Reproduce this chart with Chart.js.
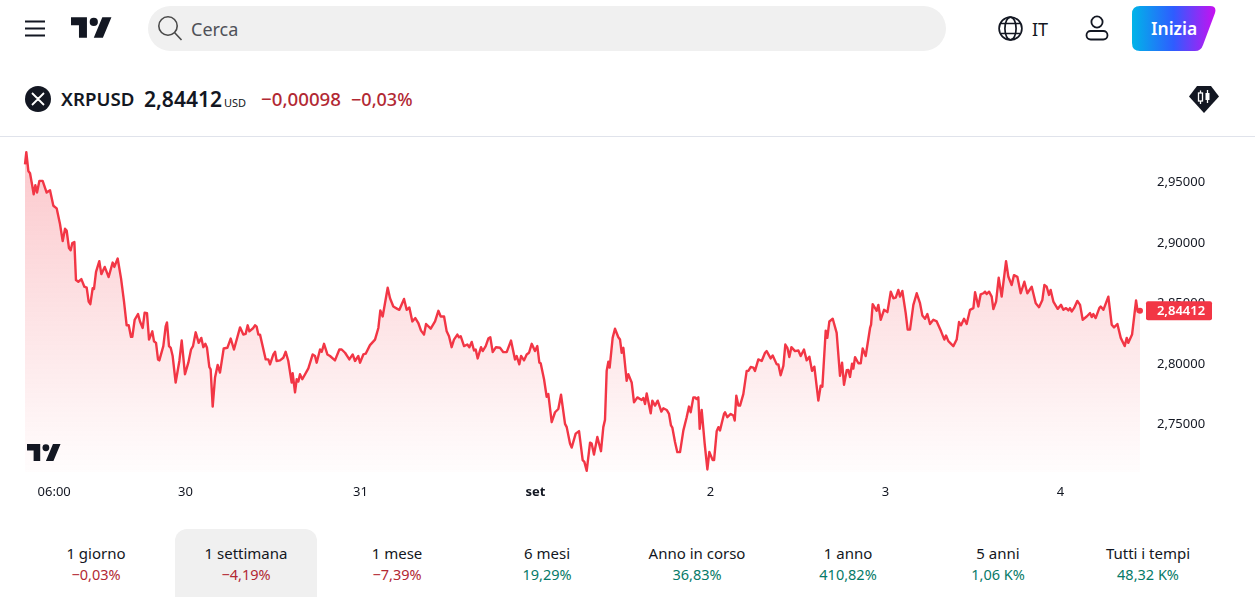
<!DOCTYPE html>
<html lang="it">
<head>
<meta charset="utf-8">
<title>XRPUSD</title>
<script src="https://cdn.jsdelivr.net/npm/chart.js@4"></script>
<style>
    * { box-sizing: border-box; }
    html, body { margin: 0; padding: 0; background: #fff; overflow: hidden; }
    body { width: 1255px; height: 597px; position: relative; font-family: "Noto Sans", sans-serif; color: #131722; }
    .abs { position: absolute; white-space: nowrap; line-height: 1; }
    svg.abs { display: block; }
    #search { left: 148px; top: 6px; width: 798px; height: 45px; background: #f0f0f0; border-radius: 23px; }
    #divider { left: 0; top: 136px; width: 1255px; height: 1px; background: #e0e3eb; }
    #chartBox { position: absolute; left: 0; top: 137px; width: 1255px; height: 370px; }
    #activeTab { left: 175px; top: 529px; width: 142px; height: 68px; background: #f0f0f0; border-radius: 12px 12px 0 0; }
    .tab { position: absolute; top: 543px; width: 150px; text-align: center; font-size: 15px; line-height: 20px; }
    .tab span { display: block; font-size: 14.5px; line-height: 22px; }
    .down { color: #b22833; }
    .up { color: #067a68; }
</style>
</head>
<body>

<!-- barra superiore -->
<svg class="abs" style="left:25px;top:20px" width="20" height="17"><path d="M0 1.5h20M0 8.5h20M0 15.5h20" stroke="#131722" stroke-width="2.2"/></svg>
<svg class="abs" style="left:71px;top:16px" width="41" height="22" viewBox="0 0 36 19"><path d="M14 19H7V8H0V1h14zM28 19h-8l7.5-18h8z" fill="#131722"/><circle cx="20" cy="5" r="3.6" fill="#131722"/></svg>
<div class="abs" id="search"></div>
<svg class="abs" style="left:157px;top:15px" width="26" height="26" fill="none" stroke="#4a4a4a" stroke-width="1.6"><circle cx="11" cy="11" r="9.2"/><path d="M17.5 17.5l7 7.5"/></svg>
<div class="abs" style="left:191px;top:20px;font-size:18px;color:#4f5058">Cerca</div>
<svg class="abs" style="left:998px;top:16px" width="25" height="25" fill="none" stroke="#131722" stroke-width="1.7"><circle cx="12.5" cy="12.5" r="11.4"/><ellipse cx="12.5" cy="12.5" rx="5.6" ry="11.4"/><path d="M2.5 7.5h20M2.5 17.5h20"/></svg>
<div class="abs" style="left:1032px;top:20px;font-size:18px">IT</div>
<svg class="abs" style="left:1085px;top:15px" width="24" height="26" fill="none" stroke="#131722" stroke-width="1.8"><circle cx="12" cy="7" r="5.6"/><rect x="1.5" y="16" width="21" height="8.5" rx="4.2"/></svg>
<svg class="abs" style="left:1132px;top:6px" width="84" height="45"><defs><linearGradient id="btn" x1="0" x2="1" y1="0" y2="0"><stop offset="0" stop-color="#00b4e8"/><stop offset="0.5" stop-color="#2f5cff"/><stop offset="1" stop-color="#c810f0"/></linearGradient></defs><path d="M8 0H78Q85 0 83 7L71 39Q69 45 63 45H8Q0 45 0 37V8Q0 0 8 0z" fill="url(#btn)"/></svg>
<div class="abs" style="left:1151px;top:20px;font-size:17.5px;font-weight:600;color:#fff">Inizia</div>

<!-- intestazione del simbolo -->
<svg class="abs" style="left:25px;top:86px" width="26" height="26"><circle cx="13" cy="13" r="13" fill="#131722"/><path d="M7 7l4.5 4.5c1 1 2 1 3 0L19 7M7 19l4.5-4.5c1-1 2-1 3 0L19 19" fill="none" stroke="#fff" stroke-width="1.8"/></svg>
<div class="abs" style="left:61px;top:90px;font-size:18.7px;font-weight:600">XRPUSD</div>
<div class="abs" style="left:144px;top:89px;font-size:21px;font-weight:600">2,84412</div>
<div class="abs" style="left:224px;top:97px;font-size:11px">USD</div>
<div class="abs down" style="left:261px;top:90px;font-size:18.7px;font-weight:500">−0,00098</div>
<div class="abs down" style="left:351px;top:90px;font-size:18px;font-weight:500">−0,03%</div>
<svg class="abs" style="left:1189px;top:86px" width="30" height="27"><path d="M8 0H22L30 10.5L15 27L0 10.5z" fill="#131722"/><rect x="9.5" y="7" width="4" height="8" fill="none" stroke="#fff" stroke-width="1.3"/><path d="M11.5 4.5v2.5M11.5 15v3M18.5 4v3M18.5 14v3" stroke="#fff" stroke-width="1.3"/><rect x="16.5" y="7" width="4" height="7" fill="#fff"/></svg>
<div class="abs" id="divider"></div>

<div id="chartBox"><canvas id="priceChart" width="1255" height="370"></canvas></div>
<svg class="abs" style="left:27px;top:443px" width="34" height="18" viewBox="0 0 36 19"><path d="M14 19H7V8H0V1h14zM28 19h-8l7.5-18h8z" fill="#131722"/><circle cx="20" cy="5" r="3.6" fill="#131722"/></svg>

<div class="abs" id="activeTab"></div>
<div id="tabs"></div>

<script>
// ore trascorse dal primo punto del grafico
const hours = [
    0, .18, .46, .69, .96, 1.19, 1.42, 1.65, 1.97, 2.42, 2.97, 3.43, 3.89, 4.34, 4.8, 5.17, 5.49, 5.71, 6.03, 6.26,
    6.49, 6.77, 6.99, 7.31, 7.73, 8.14, 8.46, 8.73, 8.96, 9.28, 9.46, 9.74, 10.19, 10.47, 10.93, 11.47, 12.02, 12.25, 12.71, 13.17,
    13.58, 13.94, 14.22, 14.54, 14.72, 15.04, 15.5, 15.77, 16.14, 16.41, 16.73, 17.01, 17.46, 17.69, 17.97, 18.24, 18.42, 18.97, 19.29, 19.47,
    19.75, 19.98, 20.25, 20.66, 21.17, 21.49, 21.94, 22.4, 22.77, 23.04, 23.41, 23.82, 24.18, 24.46, 24.73, 24.96, 25.28, 25.46, 25.74, 26.06,
    26.42, 26.74, 27.25, 27.75, 28.21, 28.66, 29.49, 29.94, 30.26, 30.54, 30.77, 31.31, 31.54, 31.77, 32, 32.23, 33.01, 33.37, 33.6, 34.06,
    34.29, 34.51, 34.97, 35.43, 35.75, 36.11, 36.57, 36.71, 37.03, 37.26, 37.49, 37.71, 38.03, 38.86, 39.45, 39.77, 40, 40.46, 40.69, 41.01,
    41.47, 41.83, 42.51, 43.11, 43.43, 43.89, 44.48, 44.94, 45.26, 45.71, 45.94, 46.4, 46.72, 47.31, 48, 48.46, 48.73, 49.05, 49.74, 50.06,
    50.51, 51.06, 51.34, 51.98, 52.34, 52.71, 53.12, 53.53, 53.94, 54.31, 54.72, 55, 55.64, 56.23, 56.69, 57.01, 57.47, 57.83, 58.15, 58.51,
    58.83, 59.29, 59.52, 59.75, 60.21, 60.66, 60.94, 61.26, 61.58, 61.81, 62.08, 62.54, 62.77, 63.18, 63.54, 63.81, 64.14, 64.59, 65.14, 65.6,
    66.06, 66.65, 67.2, 67.43, 67.79, 68.03, 68.44, 68.8, 69.12, 69.49, 69.94, 70.26, 70.54, 70.72, 71.18, 71.54, 71.77, 72.23, 72.69, 73.14,
    73.51, 74.06, 74.29, 74.74, 74.97, 75.52, 75.98, 76.48, 76.71, 77.03, 77.49, 77.71, 78.03, 78.49, 78.99, 79.31, 79.54, 79.77, 80, 80.18,
    80.59, 80.91, 81.37, 81.6, 81.83, 82.06, 82.51, 82.74, 83.2, 83.52, 83.98, 84.57, 84.8, 85.03, 85.26, 85.81, 86.03, 86.4, 86.77, 87.27,
    87.54, 88, 88.32, 88.59, 88.78, 89.14, 89.46, 89.83, 90.29, 90.74, 91.06, 91.29, 91.66, 91.89, 92.11, 92.34, 92.53, 92.8, 93.21, 93.58,
    93.85, 94.31, 94.5, 94.86, 95.09, 95.31, 95.86, 96, 96.32, 96.78, 97.14, 97.33, 97.55, 97.83, 98.06, 98.51, 98.97, 99.2, 99.52, 99.89,
    100.11, 100.57, 101.03, 101.49, 101.71, 102.26, 102.54, 103.09, 103.31, 103.63, 104, 104.27, 104.55, 104.82, 105.1, 105.6, 106.06, 106.38, 106.83, 107.2,
    107.57, 107.93, 108.25, 108.8, 109.12, 109.35, 109.81, 110.03, 110.31, 110.77, 111.31, 111.77, 112.05, 112.32, 112.69, 112.91, 113.14, 113.42, 113.6, 113.83,
    114.29, 114.61, 114.88, 115.29, 115.89, 116.03, 116.25, 116.8, 117.03, 117.35, 117.81, 118.27, 118.73, 119.09, 119.41, 119.77, 120, 120.32, 120.78, 121.05,
    121.37, 121.83, 122.29, 122.74, 123.06, 123.43, 123.75, 124.11, 124.57, 125.03, 125.63, 126.08, 126.31, 126.63, 127.31, 127.77, 128.09, 128.37, 128.78, 129.14,
    129.6, 130.06, 130.29, 130.74, 131.06, 131.43, 131.66, 131.89, 132.21, 132.57, 132.8, 133.17, 133.53, 133.94, 134.54, 134.86, 135.31, 135.63, 136.09, 136.55,
    137.05, 137.46, 138.06, 138.61, 139.06, 139.52, 139.8, 140.11, 140.43, 140.66, 141.03, 141.62, 142.08, 142.4, 142.77, 143.09, 143.31, 143.54, 143.86, 144.32,
    144.69, 145.05, 145.6, 146.06, 146.29, 146.51, 146.83, 147.33, 147.52, 147.89, 148.57, 149.03, 149.35, 149.81, 150.27, 150.81, 151.09, 151.31, 151.82, 152.37,
    152.59, 152.91
];

// prezzo XRPUSD in corrispondenza di ogni ora
const prices = [
    2.965, 2.9751, 2.9596, 2.9577, 2.9486, 2.9404, 2.9478, 2.9418, 2.9514, 2.9514, 2.9418, 2.9437, 2.9309, 2.9287, 2.9158, 2.9016, 2.9118, 2.9104, 2.8959, 2.894,
    2.9, 2.9008, 2.8694, 2.868, 2.8702, 2.8639, 2.8631, 2.8516, 2.8495, 2.8626, 2.862, 2.8762, 2.885, 2.8743, 2.8803, 2.8719, 2.8839, 2.8803, 2.8872, 2.8708,
    2.8516, 2.832, 2.832, 2.8224, 2.8224, 2.8366, 2.8413, 2.8352, 2.8298, 2.8424, 2.8421, 2.8202, 2.827, 2.8188, 2.8175, 2.8038, 2.803, 2.8148, 2.8312, 2.8344,
    2.8148, 2.8134, 2.8066, 2.7847, 2.8025, 2.8194, 2.7915, 2.8011, 2.812, 2.8148, 2.8262, 2.8175, 2.8216, 2.8139, 2.8167, 2.8134, 2.7975, 2.7956, 2.7648, 2.7888,
    2.7992, 2.7929, 2.8128, 2.8134, 2.821, 2.812, 2.8303, 2.8243, 2.8249, 2.832, 2.827, 2.8298, 2.832, 2.8309, 2.8243, 2.8243, 2.8038, 2.8038, 2.7997, 2.8079,
    2.8101, 2.8025, 2.803, 2.8052, 2.8101, 2.8025, 2.7847, 2.7923, 2.7765, 2.7874, 2.7855, 2.7915, 2.7874, 2.7964, 2.8079, 2.8066, 2.8011, 2.812, 2.8101, 2.8167,
    2.8079, 2.8066, 2.803, 2.812, 2.812, 2.8093, 2.8038, 2.8079, 2.8025, 2.8066, 2.8011, 2.8079, 2.8085, 2.8156, 2.8202, 2.8298, 2.8443, 2.8393, 2.8631, 2.8544,
    2.8475, 2.8456, 2.8448, 2.8538, 2.8448, 2.8467, 2.8352, 2.838, 2.8339, 2.8276, 2.8243, 2.8331, 2.8292, 2.8352, 2.844, 2.8393, 2.8393, 2.827, 2.823, 2.8139,
    2.8202, 2.8243, 2.8221, 2.823, 2.8148, 2.8161, 2.8139, 2.8183, 2.8112, 2.812, 2.8046, 2.8139, 2.8107, 2.8148, 2.821, 2.8221, 2.8098, 2.8139, 2.8134, 2.8098,
    2.8098, 2.8194, 2.8038, 2.8066, 2.7997, 2.8066, 2.803, 2.8079, 2.8093, 2.8167, 2.8107, 2.8148, 2.8011, 2.8006, 2.7874, 2.7729, 2.7751, 2.7519, 2.7601, 2.7628,
    2.7746, 2.7505, 2.7478, 2.7342, 2.7309, 2.7424, 2.7445, 2.7205, 2.7191, 2.7117, 2.735, 2.7342, 2.7251, 2.7396, 2.7279, 2.7478, 2.7538, 2.7943, 2.8019, 2.797,
    2.8216, 2.8292, 2.8221, 2.8202, 2.8093, 2.8134, 2.7861, 2.7915, 2.7847, 2.7683, 2.7724, 2.7702, 2.7719, 2.7669, 2.7757, 2.7593, 2.7697, 2.7656, 2.7697, 2.7607,
    2.7634, 2.762, 2.7587, 2.7492, 2.7473, 2.7355, 2.7271, 2.7271, 2.7451, 2.756, 2.7648, 2.7601, 2.7724, 2.7724, 2.771, 2.7724, 2.7464, 2.762, 2.7342, 2.7128,
    2.7273, 2.7205, 2.7205, 2.7445, 2.7478, 2.7451, 2.7587, 2.7601, 2.756, 2.7587, 2.7574, 2.7533, 2.7738, 2.7656, 2.7656, 2.7751, 2.7943, 2.7943, 2.7975, 2.797,
    2.7943, 2.8038, 2.8025, 2.8093, 2.8107, 2.8046, 2.8071, 2.7997, 2.7997, 2.7907, 2.7984, 2.8161, 2.8134, 2.8057, 2.8139, 2.8107, 2.8112, 2.8066, 2.812, 2.803,
    2.806, 2.7943, 2.7978, 2.7697, 2.782, 2.7812, 2.8276, 2.8216, 2.8352, 2.8374, 2.8257, 2.7902, 2.8011, 2.7828, 2.7948, 2.7951, 2.7893, 2.8003, 2.7962, 2.8057,
    2.8006, 2.8006, 2.8129, 2.8066, 2.8298, 2.8325, 2.8495, 2.844, 2.8489, 2.8366, 2.8448, 2.8429, 2.8598, 2.8544, 2.8549, 2.8612, 2.8557, 2.8604, 2.8421, 2.8284,
    2.8284, 2.8489, 2.8585, 2.8503, 2.8402, 2.8374, 2.8413, 2.8331, 2.8366, 2.8352, 2.827, 2.8202, 2.8235, 2.8189, 2.8148, 2.8202, 2.8347, 2.832, 2.8374, 2.8331,
    2.8448, 2.8462, 2.8593, 2.8475, 2.8576, 2.8585, 2.8598, 2.8579, 2.8598, 2.8557, 2.8454, 2.8516, 2.8713, 2.8557, 2.885, 2.8721, 2.8653, 2.8735, 2.8721, 2.8585,
    2.868, 2.8585, 2.8639, 2.8503, 2.847, 2.853, 2.8653, 2.8639, 2.8571, 2.8612, 2.8516, 2.8456, 2.8489, 2.8448, 2.8462, 2.8443, 2.8462, 2.8434, 2.8462, 2.8522,
    2.8489, 2.8366, 2.8393, 2.8421, 2.8388, 2.8413, 2.838, 2.8462, 2.8475, 2.8448, 2.8557, 2.8325, 2.8303, 2.8331, 2.8216, 2.8148, 2.8216, 2.8175, 2.8243, 2.8525,
    2.8434, 2.84412
];

const lastPrice = 2.84412;

const yTicks = [2.75, 2.8, 2.85, 2.9, 2.95];
const xTickHours = [4, 22, 46, 70, 94, 118, 142];
const xTickLabels = ['06:00', '30', '31', 'set', '2', '3', '4'];

const tabNames = ['1 giorno', '1 settimana', '1 mese', '6 mesi', 'Anno in corso', '1 anno', '5 anni', 'Tutti i tempi'];
const tabChanges = ['−0,03%', '−4,19%', '−7,39%', '19,29%', '36,83%', '410,82%', '1,06 K%', '48,32 K%'];
const tabCenters = [96, 246, 397, 547, 697, 848, 998, 1148];

const lineRed = '#F23645';
const fontName = '"Noto Sans", sans-serif';

function formatPrice(v) {
    return v.toFixed(5).replace('.', ',');
}

// riquadri dei periodi sotto il grafico
const tabsBox = document.getElementById('tabs');
tabNames.forEach((name, i) => {
    const tab = document.createElement('div');
    tab.className = 'tab';
    tab.style.left = (tabCenters[i] - 75) + 'px';
    tab.textContent = name;
    const change = document.createElement('span');
    change.textContent = tabChanges[i];
    change.className = tabChanges[i].startsWith('−') ? 'down' : 'up';
    tab.appendChild(change);
    tabsBox.appendChild(tab);
});

// etichetta rossa con l'ultimo prezzo sull'asse destro
const lastPriceTag = {
    id: 'lastPriceTag',
    afterDraw(chart) {
        const { ctx, scales } = chart;
        const y = scales.y.getPixelForValue(lastPrice);
        ctx.save();
        ctx.fillStyle = lineRed;
        ctx.beginPath();
        ctx.roundRect(1146, y - 9.5, 66, 19, 2);
        ctx.fill();
        ctx.fillStyle = '#fff';
        ctx.font = '600 13px ' + fontName;
        ctx.textAlign = 'center';
        ctx.textBaseline = 'middle';
        ctx.fillText(formatPrice(lastPrice), 1181, y + 0.5);
        ctx.restore();
    }
};

const chartCtx = document.getElementById('priceChart').getContext('2d');
const fillGradient = chartCtx.createLinearGradient(0, 10, 0, 335);
fillGradient.addColorStop(0, 'rgba(242, 54, 69, 0.28)');
fillGradient.addColorStop(1, 'rgba(242, 54, 69, 0.01)');

new Chart(chartCtx, {
    type: 'line',
    data: {
        datasets: [{
            data: hours.map((h, i) => ({ x: h, y: prices[i] })),
            borderColor: lineRed,
            borderWidth: 2.4,
            borderJoinStyle: 'round',
            backgroundColor: fillGradient,
            fill: 'start',
            tension: 0,
            clip: false,
            pointBackgroundColor: lineRed,
            pointBorderWidth: 0,
            pointRadius: ctx => ctx.dataIndex === hours.length - 1 ? 3 : 0
        }]
    },
    options: {
        responsive: false,
        animation: false,
        events: [],
        layout: { padding: { left: 25, top: 1, right: 0, bottom: 0 } },
        plugins: { legend: { display: false }, tooltip: { enabled: false } },
        scales: {
            x: {
                type: 'linear',
                min: 0,
                max: 152.91,
                grid: { display: false, drawTicks: false },
                border: { display: false },
                afterBuildTicks: axis => { axis.ticks = xTickHours.map(v => ({ value: v })); },
                afterFit: axis => { axis.height = 35; },
                ticks: {
                    autoSkip: false,
                    maxRotation: 0,
                    padding: 12,
                    color: '#131722',
                    font: ctx => ({
                        family: fontName,
                        size: 13,
                        weight: xTickLabels[ctx.index] === 'set' ? 'bold' : 'normal'
                    }),
                    callback: (value, i) => xTickLabels[i]
                }
            },
            y: {
                position: 'right',
                min: 2.7107,
                max: 2.9844,
                grid: { display: false, drawTicks: false },
                border: { display: false },
                afterBuildTicks: axis => { axis.ticks = yTicks.map(v => ({ value: v })); },
                // il padding dei tick non deve restringere l'area verticale del grafico
                afterFit: axis => {
                    axis.width = 115;
                    axis.paddingTop = 0;
                    axis.paddingBottom = 0;
                },
                ticks: {
                    padding: 17,
                    color: '#131722',
                    font: { family: fontName, size: 13 },
                    callback: value => formatPrice(value)
                }
            }
        }
    },
    plugins: [lastPriceTag]
});
</script>
</body>
</html>
